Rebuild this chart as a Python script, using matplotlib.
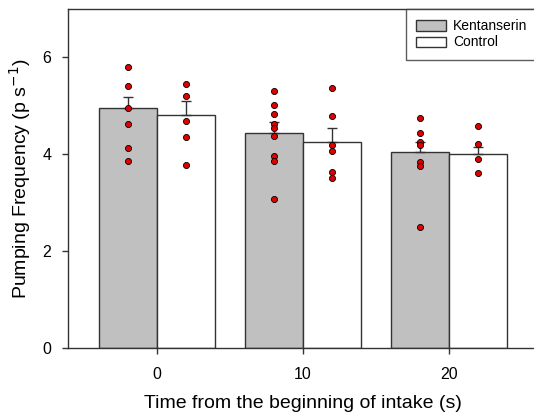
import numpy as np
import matplotlib
matplotlib.use("Agg")
import matplotlib.pyplot as plt

plt.rcParams['font.family'] = ['Liberation Sans', 'DejaVu Sans']

# Data
times = ["0", "10", "20"]
ket_mean = [4.96, 4.44, 4.04]
ket_err = [0.22, 0.23, 0.22]
ctl_mean = [4.82, 4.26, 4.01]
ctl_err = [0.27, 0.29, 0.15]

ket_points = [
    [5.81, 5.41, 4.95, 4.63, 4.12, 3.86],
    [5.31, 5.02, 4.83, 4.63, 4.54, 4.38, 3.96, 3.86, 3.07],
    [4.74, 4.44, 4.26, 4.19, 3.85, 3.76, 2.49],
]
ctl_points = [
    [5.46, 5.20, 4.68, 4.35, 3.77],
    [5.36, 4.80, 4.19, 4.06, 3.64, 3.51],
    [4.58, 4.21, 3.90, 3.61],
]

edge = "#333333"
x = np.arange(len(times))
w = 0.40

fig = plt.figure(figsize=(5.34, 4.18), dpi=100)
ax = fig.add_axes([68 / 534, 70 / 418, 470 / 534, 339 / 418])

ax.bar(x - w / 2, ket_mean, w, color="#c0c0c0", edgecolor=edge, linewidth=1.0,
       label="Kentanserin", zorder=2)
ax.bar(x + w / 2, ctl_mean, w, color="white", edgecolor=edge, linewidth=1.0,
       label="Control", zorder=2)

# upward-only error bars
ax.errorbar(x - w / 2, ket_mean, yerr=[np.zeros(3), ket_err], fmt="none",
            ecolor=edge, elinewidth=1.0, capsize=3.6, capthick=1.0, zorder=3)
ax.errorbar(x + w / 2, ctl_mean, yerr=[np.zeros(3), ctl_err], fmt="none",
            ecolor=edge, elinewidth=1.0, capsize=3.6, capthick=1.0, zorder=3)

# individual points
for i in range(len(times)):
    ax.plot([x[i] - w / 2] * len(ket_points[i]), ket_points[i], "o",
            color="#e00000", markeredgecolor="black", markeredgewidth=0.6,
            markersize=4.4, zorder=4)
    ax.plot([x[i] + w / 2] * len(ctl_points[i]), ctl_points[i], "o",
            color="#e00000", markeredgecolor="black", markeredgewidth=0.6,
            markersize=4.4, zorder=4)

ax.set_xlim(-0.61, 2.61)
ax.set_ylim(0, 7)
ax.set_yticks([0, 2, 4, 6])
ax.set_xticks(x)
ax.set_xticklabels(times)
ax.tick_params(axis="both", direction="out", length=4, width=1.0, color=edge,
               labelsize=11.5, pad=8)
ax.tick_params(axis="x", pad=10)
for s in ax.spines.values():
    s.set_color(edge)
    s.set_linewidth(1.0)

ax.set_xlabel("Time from the beginning of intake (s)", fontsize=14, labelpad=9)
ax.set_ylabel("Pumping Frequency (p s$^{-1}$)", fontsize=14, labelpad=7)

leg = ax.legend(loc="upper right", bbox_to_anchor=(1.0, 1.0), borderaxespad=0,
                fancybox=False, frameon=True, fontsize=10, handlelength=2.1,
                handleheight=0.75, handletextpad=0.55, borderpad=0.75,
                labelspacing=0.15)
leg.get_frame().set_edgecolor(edge)
leg.get_frame().set_linewidth(1.0)

fig.savefig("out.png", dpi=100)
